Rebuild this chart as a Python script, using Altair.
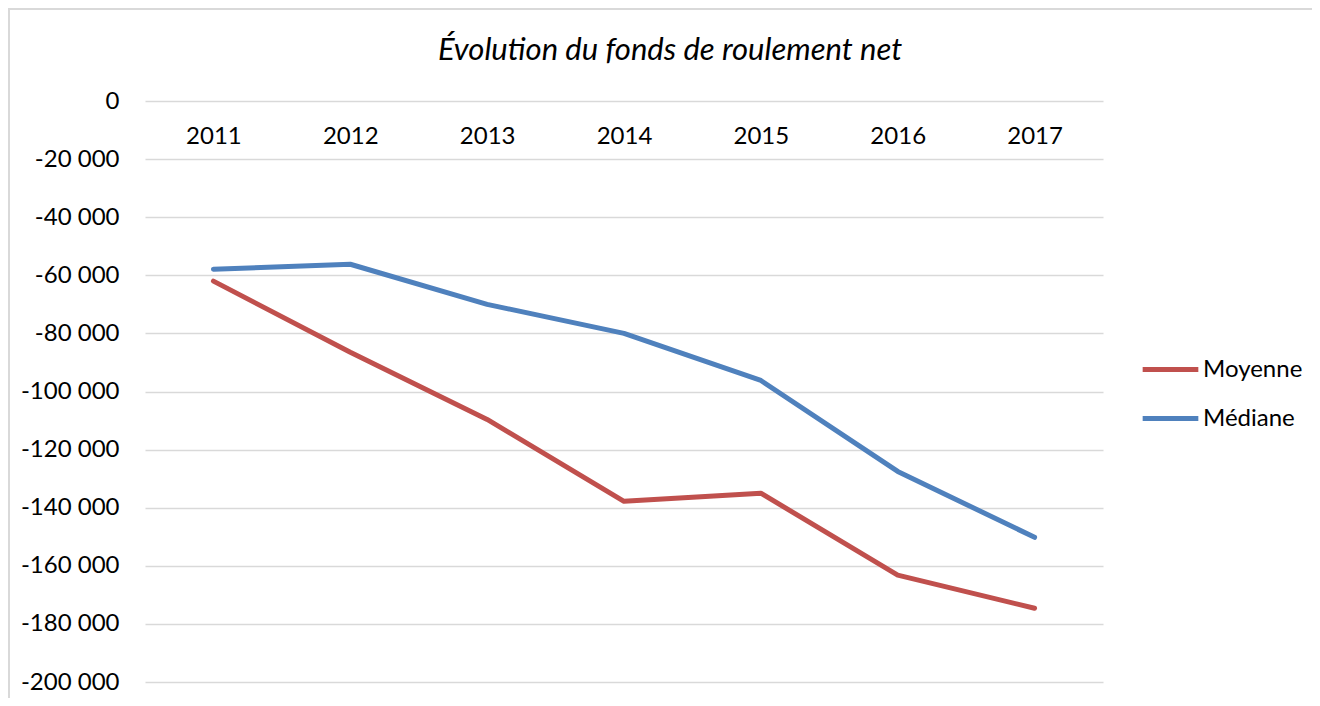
import altair as alt
import pandas as pd

years = ["2011", "2012", "2013", "2014", "2015", "2016", "2017"]
moyenne = [-62000, -86500, -109600, -137800, -135000, -163200, -174600]
mediane = [-57900, -56200, -70000, -80000, -96200, -127500, -150200]
series_names = ["Moyenne", "Médiane"]
series_colors = ["#C0504D", "#4F81BD"]
y_ticks = list(range(-200000, 1, 20000))

rows = []
for name, vals in zip(series_names, [moyenne, mediane]):
    for yr, v in zip(years, vals):
        rows.append({"annee": yr, "valeur": v, "serie": name})
df = pd.DataFrame(rows)

FONT = "Lato"
W, H = 958, 581

lines = alt.Chart(df).mark_line(strokeWidth=5, strokeCap="round", strokeJoin="round").encode(
    x=alt.X("annee:N", sort=years, title=None,
            axis=alt.Axis(orient="bottom", offset=-H, domain=False, ticks=False, grid=False,
                          labelAngle=0, labelFont=FONT, labelFontSize=24, labelColor="#000000",
                          labelPadding=35, labelBaseline="middle")),
    y=alt.Y("valeur:Q", title=None,
            scale=alt.Scale(domain=[-200000, 0], nice=False, zero=False),
            axis=alt.Axis(values=y_ticks, domain=False, ticks=False, grid=True,
                          gridColor="#D9D9D9", gridWidth=1.3,
                          labelFont=FONT, labelFontSize=24, labelColor="#000000", labelPadding=26,
                          labelExpr="(datum.value < 0 ? '-' : '') + replace(format(abs(datum.value), ','), ',', ' ')")),
    color=alt.Color("serie:N", sort=series_names,
                    scale=alt.Scale(domain=series_names, range=series_colors),
                    legend=alt.Legend(title=None, orient="none", legendX=995, legendY=238,
                                      symbolType="stroke", symbolStrokeWidth=5, symbolSize=3100,
                                      labelFont=FONT, labelFontSize=24, labelColor="#000000",
                                      labelOffset=2, rowPadding=6, padding=0)),
    order=alt.Order("annee:N"),
)

frame_data = alt.Data(values=[{"k": 1}])
frame_left = alt.Chart(frame_data).mark_rect(fill="#D9D9D9", strokeWidth=0).encode(
    x=alt.value(-137), x2=alt.value(-135), y=alt.value(-93), y2=alt.value(620)
)
frame_top = alt.Chart(frame_data).mark_rect(fill="#D9D9D9", strokeWidth=0).encode(
    x=alt.value(-137), x2=alt.value(1250), y=alt.value(-93), y2=alt.value(-91)
)

chart = alt.layer(frame_left, frame_top, lines).properties(
    width=W, height=H,
    title=alt.TitleParams("Évolution du fonds de roulement net", font=FONT, fontSize=31,
                          fontStyle="italic", fontWeight="normal", color="#000000",
                          anchor="middle", frame="group", dx=46, offset=-83,
                          baseline="alphabetic"),
    autosize=alt.AutoSizeParams(type="none"),
    padding={"left": 137, "top": 93, "right": 209, "bottom": 16},
).configure(background="white").configure_view(stroke=None)

chart.save("out.html", embed_options={"renderer": "svg", "actions": False})
